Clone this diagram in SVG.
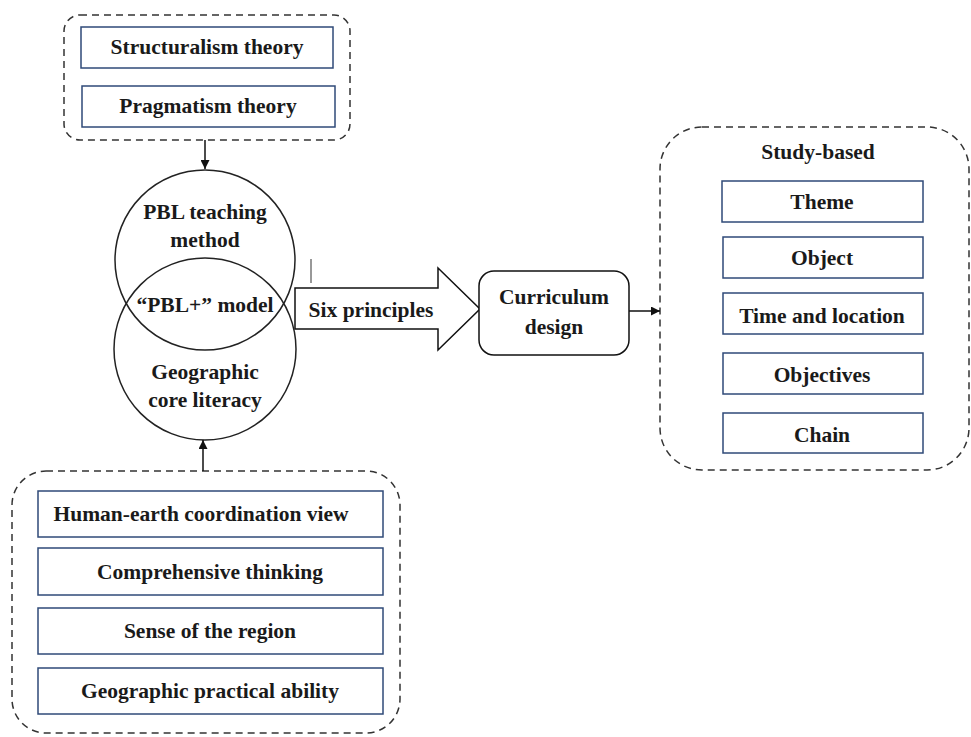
<svg xmlns="http://www.w3.org/2000/svg" width="971" height="737" viewBox="0 0 971 737">
<style>
text{font-family:"Liberation Serif","Times New Roman",serif;font-weight:bold;font-size:21.5px;fill:#1a1a1a;text-anchor:middle;dominant-baseline:central}
.box{fill:#fff;stroke:#2f4a78;stroke-width:1.5}
.dash{fill:none;stroke:#333;stroke-width:1.5;stroke-dasharray:7,5}
.line{fill:none;stroke:#111;stroke-width:1.5}
</style>
<defs>
<marker id="ah" viewBox="0 0 10 10" refX="10" refY="5" markerWidth="9" markerHeight="9" markerUnits="userSpaceOnUse" orient="auto">
<path d="M0,0 L10,5 L0,10 z" fill="#111"/>
</marker>
</defs>
<rect width="971" height="737" fill="#fff"/>

<g id="theory-group">
<rect class="dash" x="64" y="15" width="286" height="125" rx="16"/>
<g id="structuralism"><rect class="box" x="81" y="27" width="252" height="41"/><text x="207" y="47">Structuralism theory</text></g>
<g id="pragmatism"><rect class="box" x="82" y="86" width="253" height="41"/><text x="208" y="106">Pragmatism theory</text></g>
</g>

<g id="pbl-circle">
<circle cx="205" cy="260" r="90" fill="none" stroke="#222" stroke-width="1.5"/>
<text x="205" y="212">PBL teaching</text>
<text x="205" y="240">method</text>
</g>
<g id="geo-circle">
<circle cx="205" cy="349" r="91" fill="none" stroke="#222" stroke-width="1.5"/>
<text x="205" y="372">Geographic</text>
<text x="205" y="400">core literacy</text>
</g>
<g id="pbl-plus"><text x="205" y="305">“PBL+” model</text></g>

<g id="six-principles">
<path d="M295,288 L438,288 L438,268 L480,309 L438,350 L438,329 L295,329 Z" fill="#fff" stroke="#111" stroke-width="1.5"/>
<text x="371" y="310">Six principles</text>
</g>

<g id="curriculum">
<rect x="479" y="271" width="150" height="84" rx="15" fill="#fff" stroke="#111" stroke-width="1.5"/>
<text x="554" y="297">Curriculum</text>
<text x="554" y="327">design</text>
</g>

<g id="study-group">
<rect class="dash" x="660" y="127" width="309" height="343" rx="42"/>
<text x="818" y="152">Study-based</text>
<g id="theme"><rect class="box" x="722" y="181" width="201" height="41"/><text x="822" y="202">Theme</text></g>
<g id="object"><rect class="box" x="723" y="237" width="200" height="41"/><text x="822" y="258">Object</text></g>
<g id="time"><rect class="box" x="723" y="293" width="200" height="41"/><text x="822" y="316">Time and location</text></g>
<g id="objectives"><rect class="box" x="723" y="353" width="200" height="41"/><text x="822" y="375">Objectives</text></g>
<g id="chain"><rect class="box" x="723" y="413" width="200" height="40"/><text x="822" y="435">Chain</text></g>
</g>

<g id="literacy-group">
<rect class="dash" x="12" y="471" width="388" height="262" rx="34"/>
<g id="human-earth"><rect class="box" x="38" y="491" width="345" height="46"/><text x="201" y="514">Human-earth coordination view</text></g>
<g id="comprehensive"><rect class="box" x="38" y="548" width="345" height="47"/><text x="210" y="572">Comprehensive thinking</text></g>
<g id="sense"><rect class="box" x="38" y="608" width="345" height="46"/><text x="210" y="631">Sense of the region</text></g>
<g id="practical"><rect class="box" x="38" y="668" width="345" height="46"/><text x="210" y="691">Geographic practical ability</text></g>
</g>

<g id="connectors">
<line class="line" x1="205" y1="140" x2="205" y2="169" marker-end="url(#ah)"/>
<line class="line" x1="203" y1="471" x2="203" y2="440" marker-end="url(#ah)"/>
<line class="line" x1="629" y1="311" x2="660" y2="311" marker-end="url(#ah)"/>
<line x1="311" y1="259" x2="311" y2="283" stroke="#333" stroke-width="1"/>
</g>
</svg>
